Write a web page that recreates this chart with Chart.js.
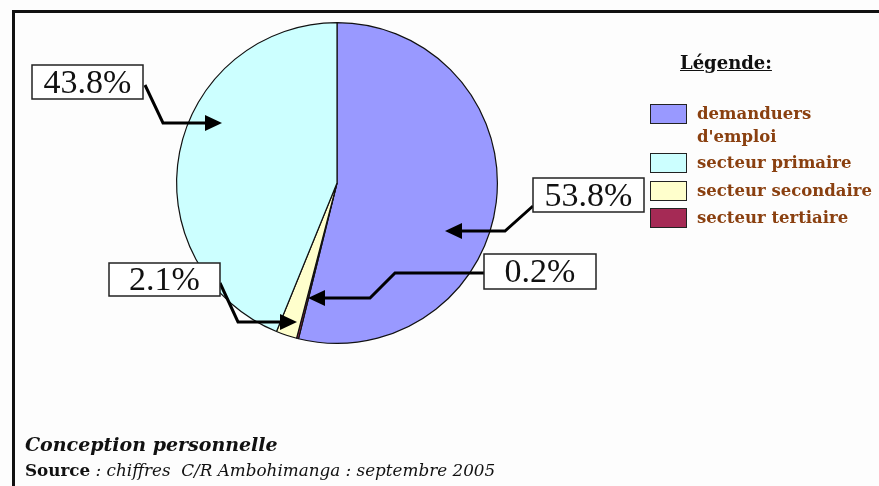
<!DOCTYPE html>
<html>
<head>
<meta charset="utf-8">
<script src="https://cdn.jsdelivr.net/npm/chart.js@4.4.0/dist/chart.umd.min.js"></script>
<style>
    body { margin: 0; background: #fdfdfd; }
    #wrap { position: relative; width: 879px; height: 486px; overflow: hidden; background: #fdfdfd; }
    #frame { position: absolute; left: 12px; top: 10px; width: 900px; height: 500px;
        border-left: 3px solid #111; border-top: 3px solid #111; }
    #chartBox { position: absolute; left: 0; top: 0; width: 879px; height: 486px; }
    #legend { position: absolute; left: 650px; top: 52px; font-family: "DejaVu Serif", serif;
        font-weight: bold; color: #8a4010; }
    #legend .title { position: absolute; left: 30px; top: 0; font-size: 18px; color: #111;
        text-decoration: underline; white-space: nowrap; }
    .item { position: absolute; left: 0; white-space: nowrap; font-size: 16.5px; line-height: 23px; }
    .item .sw { position: absolute; left: 0; top: 2px; width: 35px; height: 18px; border: 1.5px solid #222; }
    .item .txt { position: absolute; left: 47px; top: 0; }
    #foot1 { position: absolute; left: 25px; top: 433px; font-family: "DejaVu Serif", serif;
        font-weight: bold; font-style: italic; font-size: 19px; color: #111; white-space: nowrap; }
    #foot2 { position: absolute; left: 25px; top: 460px; font-family: "DejaVu Serif", serif;
        font-style: italic; font-size: 16.8px; color: #111; white-space: nowrap; }
    #foot2 b { font-style: normal; }
</style>
</head>
<body>
<div id="wrap">
    <div id="frame"></div>
    <div id="chartBox"><canvas id="myPieChart"></canvas></div>
    <div id="legend"><div class="title">Légende:</div></div>
    <div id="foot1">Conception personnelle</div>
    <div id="foot2"><b>Source</b> : chiffres&nbsp; C/R Ambohimanga : septembre 2005</div>
</div>
<script>
// pie data, in drawing order (clockwise from 12 o'clock)
const labels = ["demanduers d'emploi", "secteur tertiaire", "secteur secondaire", "secteur primaire"]
const values = [53.8, 0.2, 2.1, 43.8]
const colors = ["#9999ff", "#a52a55", "#ffffcc", "#ccffff"]
// legend shows them in another order
const legendOrder = [0, 3, 2, 1]
const legendLines = [["demanduers", "d'emploi"], ["secteur tertiaire"], ["secteur secondaire"], ["secteur primaire"]]

// build html legend
const legendEl = document.getElementById("legend")
let itemTop = 50
legendOrder.forEach(function (i) {
    const item = document.createElement("div")
    item.className = "item"
    item.style.top = itemTop + "px"
    item.innerHTML = '<div class="sw" style="background:' + colors[i] + '"></div>' +
        '<div class="txt">' + legendLines[i].join("<br>") + "</div>"
    legendEl.appendChild(item)
    itemTop += legendLines[i].length > 1 ? 49 : 27.5
})

// callouts: box and leader line, offsets from the pie centre
const callouts = {
    3: { box: [-305, -118, 111, 34], path: [[-192, -98], [-174, -60], [-132, -60]], tip: [-115, -60] },
    0: { box: [196, -5, 111, 34], path: [[196, 23], [168, 48], [125, 48]], tip: [108, 48] },
    2: { box: [-228, 80, 111, 33], path: [[-117, 100], [-99, 139], [-56, 139]], tip: [-40, 139] },
    1: { box: [147, 71, 112, 35], path: [[147, 90], [58, 90], [33, 115], [-12, 115]], tip: [-29, 115] },
}

const calloutPlugin = {
    id: "callouts",
    afterDraw(chart) {
        const ctx = chart.ctx
        const arc = chart.getDatasetMeta(0).data[0]
        const cx = arc.x, cy = arc.y
        ctx.save()
        Object.keys(callouts).forEach(function (k) {
            const c = callouts[k]
            const pts = c.path.map(p => [cx + p[0], cy + p[1]])
            const tip = [cx + c.tip[0], cy + c.tip[1]]
            ctx.strokeStyle = "#000"
            ctx.lineWidth = 3
            ctx.lineJoin = "miter"
            ctx.beginPath()
            ctx.moveTo(pts[0][0], pts[0][1])
            for (let j = 1; j < pts.length; j++) ctx.lineTo(pts[j][0], pts[j][1])
            ctx.stroke()
            // arrow head
            const last = pts[pts.length - 1]
            const dir = Math.sign(tip[0] - last[0])
            ctx.fillStyle = "#000"
            ctx.beginPath()
            ctx.moveTo(tip[0], tip[1])
            ctx.lineTo(tip[0] - dir * 17, tip[1] - 8)
            ctx.lineTo(tip[0] - dir * 17, tip[1] + 8)
            ctx.closePath()
            ctx.fill()
            // box
            const bx = cx + c.box[0], by = cy + c.box[1]
            ctx.fillStyle = "#fff"
            ctx.fillRect(bx, by, c.box[2], c.box[3])
            ctx.lineWidth = 1.5
            ctx.strokeStyle = "#222"
            ctx.strokeRect(bx, by, c.box[2], c.box[3])
            ctx.fillStyle = "#111"
            ctx.font = "34px 'Liberation Serif', serif"
            ctx.textAlign = "center"
            ctx.textBaseline = "middle"
            ctx.fillText(values[k].toFixed(1) + "%", bx + c.box[2] / 2, by + c.box[3] / 2 + 2)
        })
        ctx.restore()
    },
}

var ctx = document.getElementById("myPieChart").getContext("2d")
const config = {
    type: "pie",
    data: {
        labels: labels,
        datasets: [
            {
                data: values,
                backgroundColor: colors,
                borderColor: "#111",
                borderWidth: 1.2,
            },
        ],
    },
    options: {
        responsive: true,
        maintainAspectRatio: false,
        animation: false,
        layout: {
            padding: { left: 176, right: 381, top: 22, bottom: 142 },
        },
        plugins: {
            legend: { display: false },
            tooltip: { enabled: false },
        },
    },
    plugins: [calloutPlugin],
}
var myChart = new Chart(ctx, config)
</script>
</body>
</html>
